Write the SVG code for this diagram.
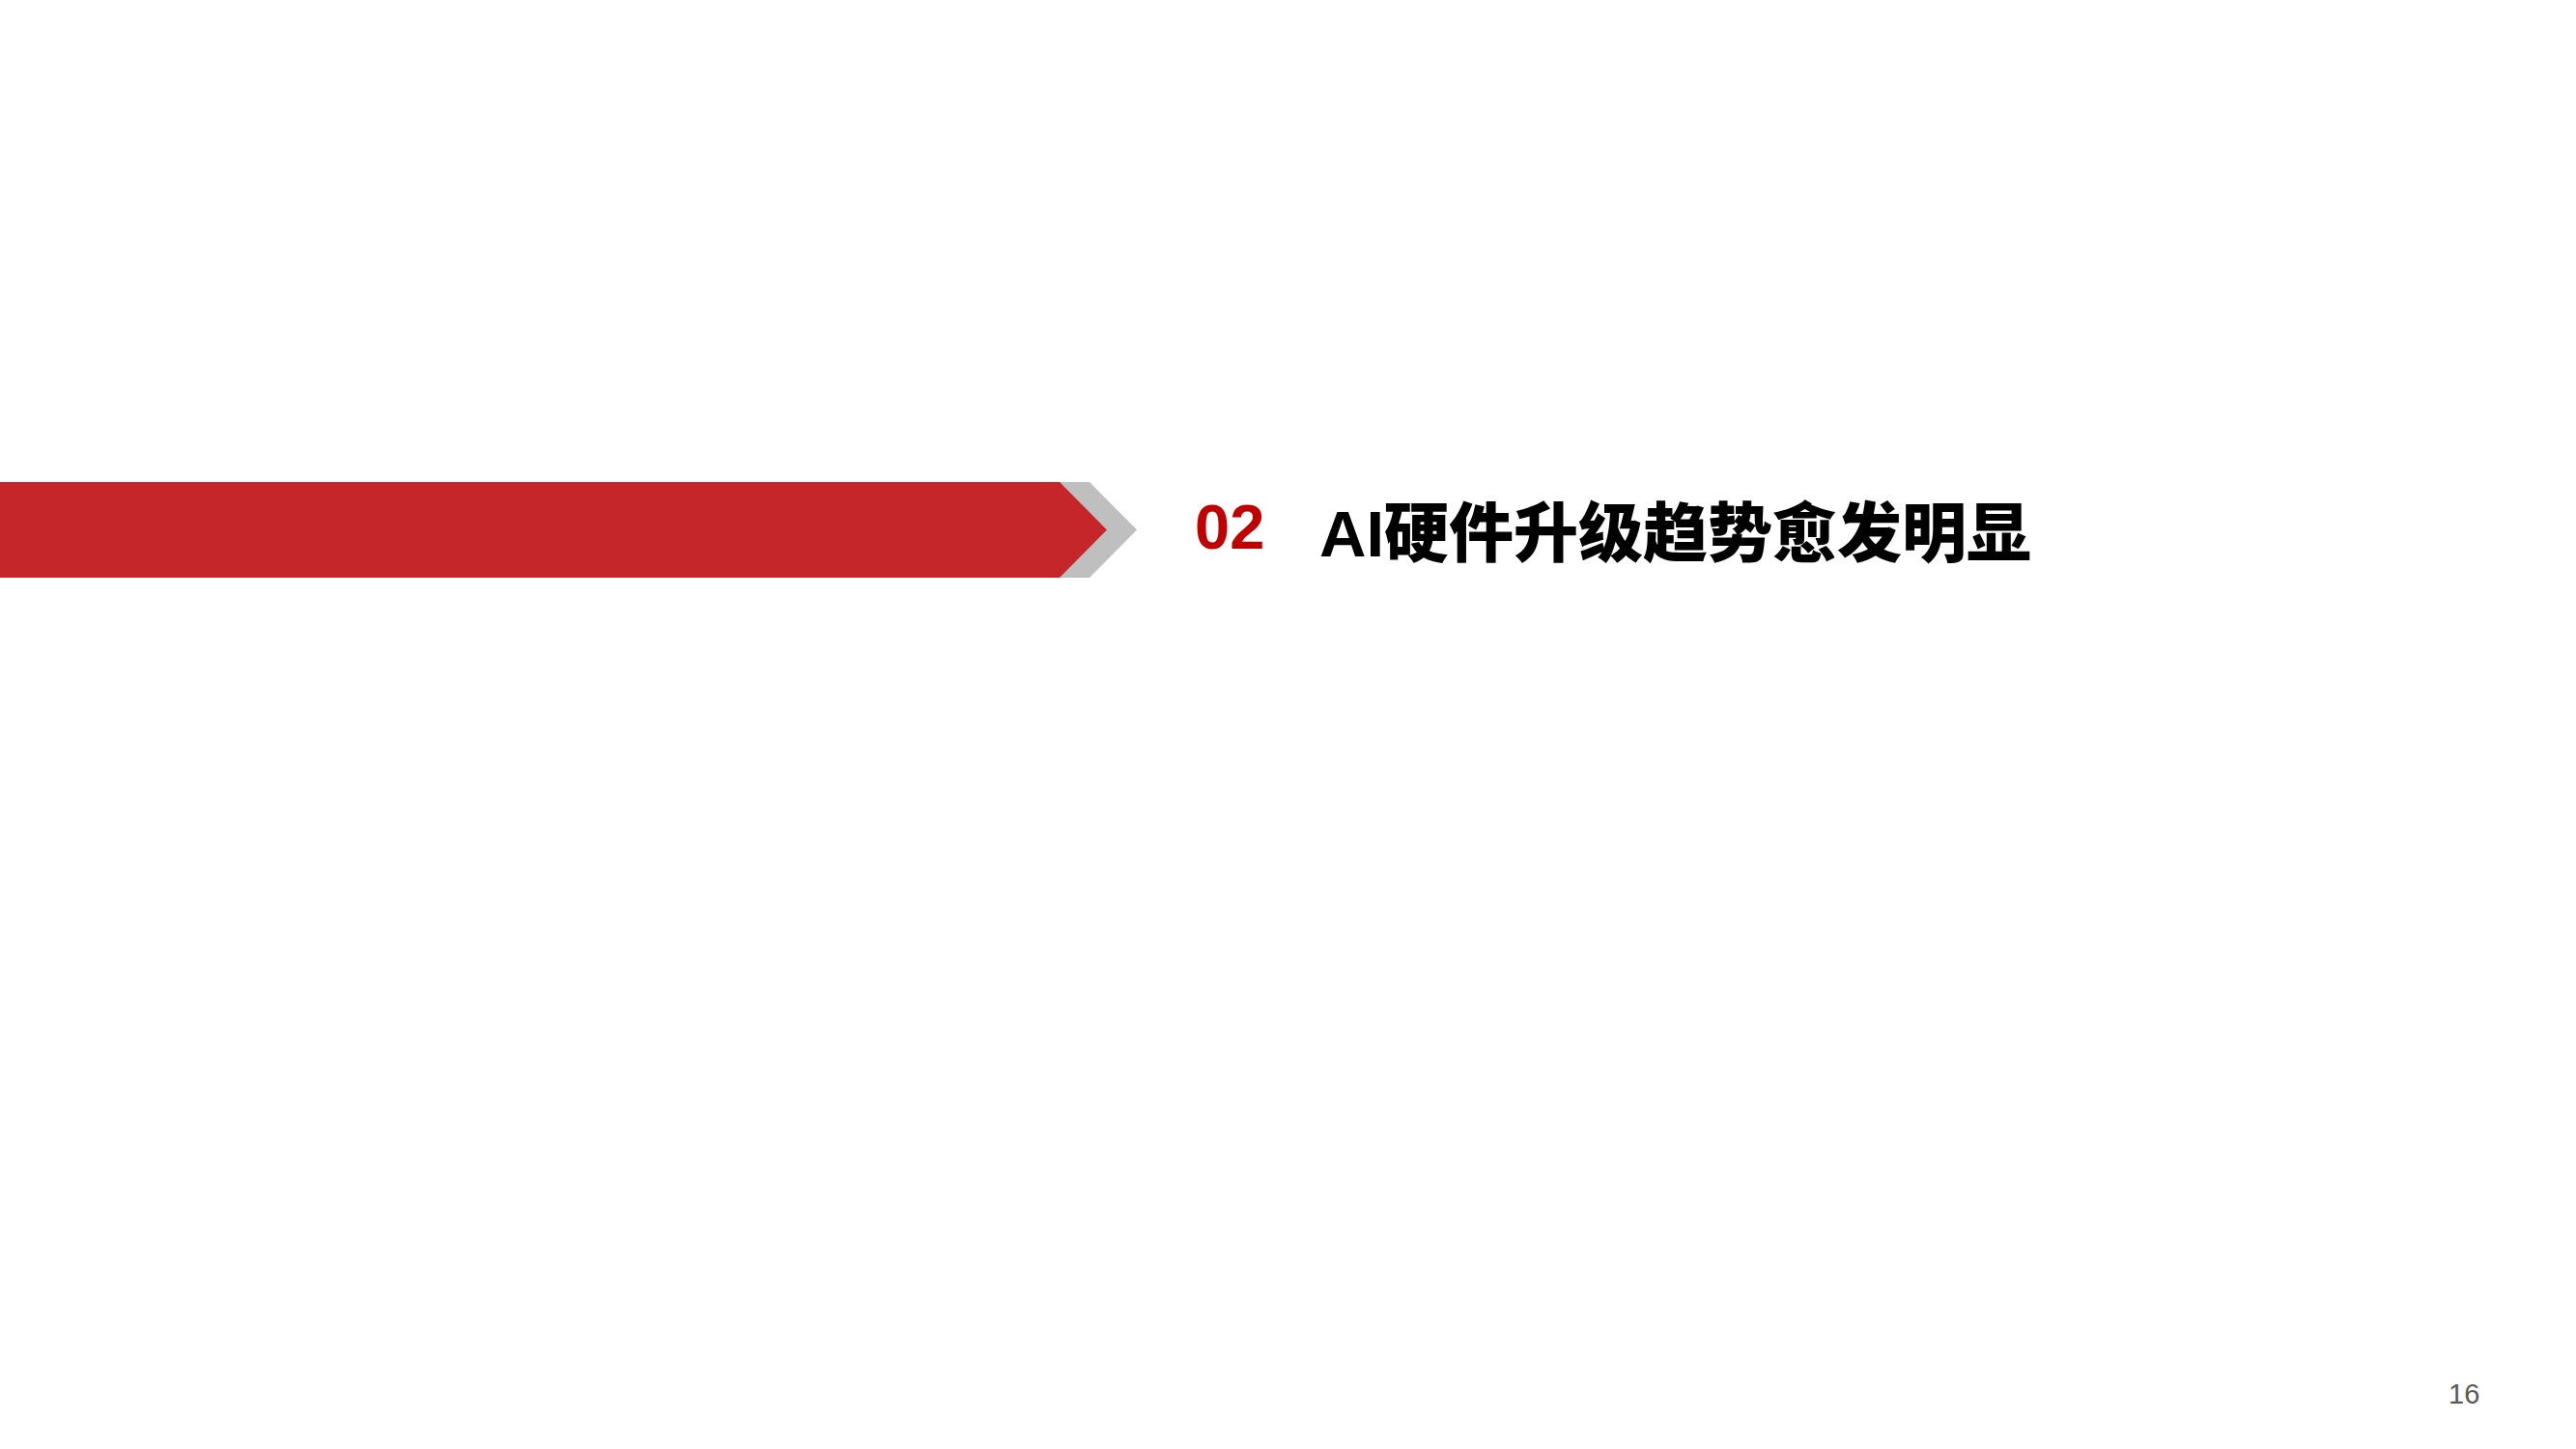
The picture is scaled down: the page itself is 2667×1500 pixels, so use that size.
<svg xmlns="http://www.w3.org/2000/svg" width="2667" height="1500" viewBox="0 0 2667 1500">
  <style>
    .num { font-family: "Liberation Sans", Arial, sans-serif; font-weight: bold; font-size: 65px; fill: #C00000; }
    .title { font-family: "Liberation Sans", "Noto Sans CJK SC", sans-serif; font-weight: 900; font-size: 67px; fill: #000000; }
    .page { font-family: "Liberation Sans", Arial, sans-serif; font-size: 29px; fill: #595959; }
  </style>
  <rect x="0" y="0" width="2667" height="1500" fill="#FFFFFF"/>
  <g id="banner">
    <polygon points="1097,499 1128,499 1177,548.5 1128,598 1097,598" fill="#BFBFBF"/>
    <polygon points="0,499 1097,499 1146,548.5 1097,598 0,598" fill="#C4262A"/>
  </g>
  <g id="heading">
    <text class="num" x="1237" y="568">02</text>
    <text class="title" x="1366" y="576">AI硬件升级趋势愈发明显</text>
  </g>
  <g id="page-number">
    <text class="page" x="2535" y="1453">16</text>
  </g>
</svg>
